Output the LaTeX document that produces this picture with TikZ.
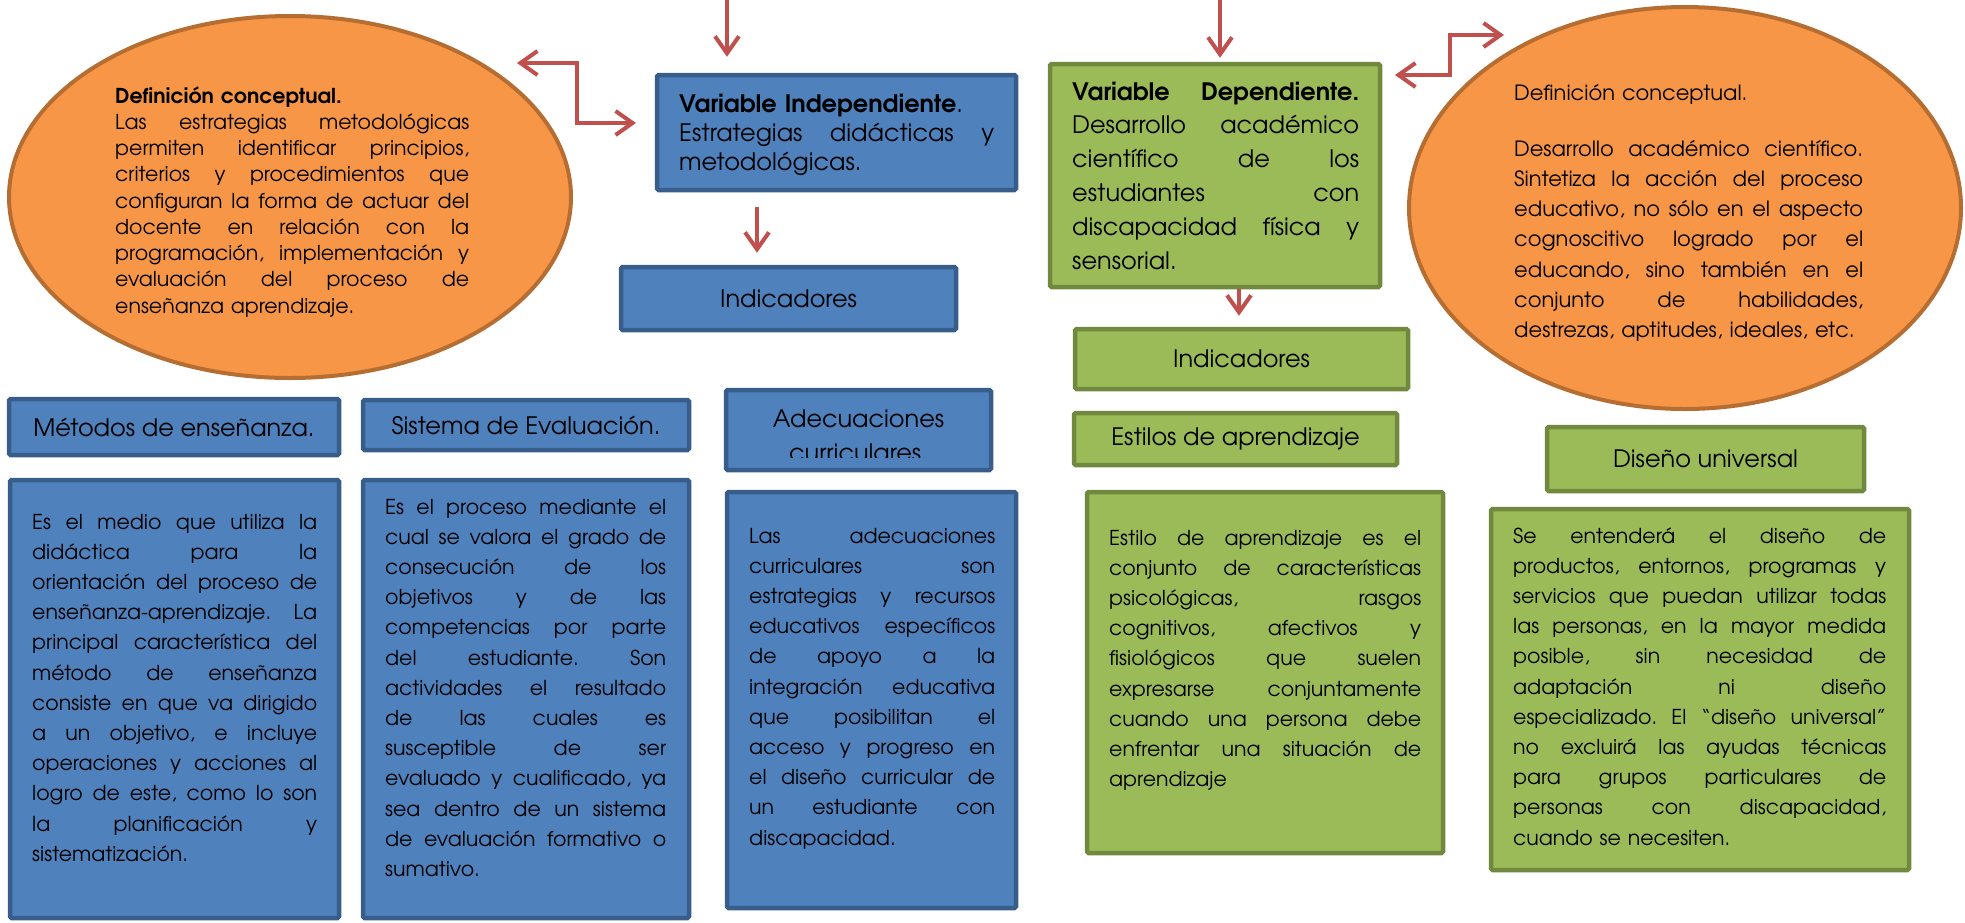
\documentclass[tikz,border=0pt]{standalone}
\usepackage{fontspec}
\setmainfont{texgyreadventor}[Extension=.otf, UprightFont=*-regular, BoldFont=*-bold, ItalicFont=*-italic, BoldItalicFont=*-bolditalic]
\usetikzlibrary{shapes.geometric,arrows.meta,calc}
\definecolor{bfill}{HTML}{4F81BD}
\definecolor{bdraw}{HTML}{385D8A}
\definecolor{gfill}{HTML}{9BBB59}
\definecolor{gdraw}{HTML}{71893F}
\definecolor{ofill}{HTML}{F79646}
\definecolor{odraw}{HTML}{B66D31}
\definecolor{arrc}{HTML}{C0504D}
\setlength{\parindent}{0pt}
\setlength{\parskip}{0pt}
\frenchspacing
\def\LW{100pt}
\newcommand\JL[1]{\hbox to\LW{\frenchspacing\spaceskip=\fontdimen2\font plus 1fil\relax #1}\par}
\begin{document}
\begin{tikzpicture}[x=1pt,y=-1pt,
  bbox/.style={draw=bdraw, fill=bfill, line width=4.5pt, rounded corners=1.5pt, inner sep=0pt, text=black},
  gbox/.style={draw=gdraw, fill=gfill, line width=4.5pt, rounded corners=1.5pt, inner sep=0pt, text=black},
  oell/.style={ellipse, draw=odraw, fill=ofill, line width=4pt, inner sep=0pt},
  txt/.style={anchor=base west, inner sep=0pt, align=left, text=black},
  lw/.style={text width=#1, execute at begin node={\def\LW{#1}}},
  hdr/.style={font=\fontsize{24}{28}\selectfont},
  body/.style={font=\fontsize{20.5}{30.2}\selectfont},
  arrow/.style={draw=arrc, line width=4pt, -{Straight Barb[length=17pt,width=24pt]}},
  darrow/.style={draw=arrc, line width=4pt, {Straight Barb[length=17pt,width=24pt]}-{Straight Barb[length=17pt,width=24pt]}},
]
\useasboundingbox (0,0) rectangle (1965,922);

% ellipses
\node[oell, minimum width=562pt, minimum height=362pt] (lell) at (290,197) {};
\node[oell, minimum width=552pt, minimum height=402pt] (rell) at (1685,208) {};

% top boxes
\node[bbox, minimum width=359pt, minimum height=115pt] (vi) at (836.5,132.5) {};
\node[bbox, hdr, minimum width=335pt, minimum height=63pt] (ind1) at (788.5,298.5) {Indicadores};
\node[gbox, minimum width=330pt, minimum height=223pt] (vd) at (1215,175.5) {};
\node[gbox, hdr, minimum width=333pt, minimum height=60pt] (ind2) at (1241.5,359) {Indicadores};

% header boxes
\node[bbox, hdr, minimum width=330pt, minimum height=56pt] (met) at (174,427) {Métodos de enseñanza.};
\node[bbox, hdr, minimum width=326pt, minimum height=50pt] (sis) at (526,425) {Sistema de Evaluación.};
\node[bbox, minimum width=265pt, minimum height=80pt] (ade) at (858.5,430) {};
\node[gbox, hdr, minimum width=323pt, minimum height=52pt] (est) at (1235.5,439) {Estilos de aprendizaje};
\node[gbox, hdr, minimum width=317pt, minimum height=64pt] (dis) at (1705.5,459) {Diseño universal};

% big boxes
\node[bbox, minimum width=329pt, minimum height=438pt] (b1) at (174.5,699) {};
\node[bbox, minimum width=326pt, minimum height=438pt] (b2) at (526,699) {};
\node[bbox, minimum width=289pt, minimum height=416pt] (b3) at (871.5,700) {};
\node[gbox, minimum width=356pt, minimum height=361pt] (g1) at (1265,672.5) {};
\node[gbox, minimum width=418pt, minimum height=361pt] (g2) at (1700,689.5) {};

% ellipse texts
\begin{scope}
\clip (100,0) rectangle (480,316);
\node[txt, lw=354pt, font=\fontsize{20.5}{26.25}\selectfont] (lt) at (115,103) {%
\textbf{Definición conceptual.}\par
\JL{Las estrategias metodológicas}
\JL{permiten identificar principios,}
\JL{criterios y procedimientos que}
\JL{configuran la forma de actuar del}
\JL{docente en relación con la}
\JL{programación, implementación y}
\JL{evaluación del proceso de}
enseñanza aprendizaje.};
\end{scope}
\begin{scope}
\clip (1500,0) rectangle (1900,341);
\node[txt, lw=349pt, font=\fontsize{21}{30.3}\selectfont] (rt) at (1514,100) {%
Definición conceptual.\par\vskip25.7pt
\JL{Desarrollo académico científico.}
\JL{Sintetiza la acción del proceso}
\JL{educativo, no sólo en el aspecto}
\JL{cognoscitivo logrado por el}
\JL{educando, sino también en el}
\JL{conjunto de habilidades,}
destrezas, aptitudes, ideales, etc.};
\end{scope}

% variable texts
\node[txt, lw=315pt, font=\fontsize{24}{29}\selectfont] (vit) at (679,112) {%
\textbf{Variable Independiente}.\par
\JL{Estrategias didácticas y}
metodológicas.};
\node[txt, lw=287pt, font=\fontsize{24}{33.8}\selectfont] (vdt) at (1072,100) {%
\JL{\textbf{Variable Dependiente.}}
\JL{Desarrollo académico}
\JL{científico de los}
\JL{estudiantes con}
\JL{discapacidad física y}
sensorial.};

% Adecuaciones header (clipped)
\begin{scope}
\clip (730,390) rectangle (990,457);
\node[anchor=base, inner sep=0pt, text width=260pt, align=center, font=\fontsize{24}{34}\selectfont] (adt) at (858.5,427) {Adecuaciones\par curriculares.};
\end{scope}

% body texts
\node[txt, body, lw=285pt] (b1t) at (32,529) {%
\JL{Es el medio que utiliza la}
\JL{didáctica para la}
\JL{orientación del proceso de}
\JL{enseñanza-aprendizaje. La}
\JL{principal característica del}
\JL{método de enseñanza}
\JL{consiste en que va dirigido}
\JL{a un objetivo, e incluye}
\JL{operaciones y acciones al}
\JL{logro de este, como lo son}
\JL{la planificación y}
sistematización.};
\node[txt, body, lw=281pt] (b2t) at (385,514) {%
\JL{Es el proceso mediante el}
\JL{cual se valora el grado de}
\JL{consecución de los}
\JL{objetivos y de las}
\JL{competencias por parte}
\JL{del estudiante. Son}
\JL{actividades el resultado}
\JL{de las cuales es}
\JL{susceptible de ser}
\JL{evaluado y cualificado, ya}
\JL{sea dentro de un sistema}
\JL{de evaluación formativo o}
sumativo.};
\node[txt, body, lw=246pt] (b3t) at (749,543) {%
\JL{Las adecuaciones}
\JL{curriculares son}
\JL{estrategias y recursos}
\JL{educativos específicos}
\JL{de apoyo a la}
\JL{integración educativa}
\JL{que posibilitan el}
\JL{acceso y progreso en}
\JL{el diseño curricular de}
\JL{un estudiante con}
discapacidad.};
\node[txt, body, lw=312pt] (g1t) at (1109,545) {%
\JL{Estilo de aprendizaje es el}
\JL{conjunto de características}
\JL{psicológicas, rasgos}
\JL{cognitivos, afectivos y}
\JL{fisiológicos que suelen}
\JL{expresarse conjuntamente}
\JL{cuando una persona debe}
\JL{enfrentar una situación de}
aprendizaje};
\node[txt, body, lw=373pt] (g2t) at (1513,543) {%
\JL{Se entenderá el diseño de}
\JL{productos, entornos, programas y}
\JL{servicios que puedan utilizar todas}
\JL{las personas, en la mayor medida}
\JL{posible, sin necesidad de}
\JL{adaptación ni diseño}
\JL{especializado. El “diseño universal”}
\JL{no excluirá las ayudas técnicas}
\JL{para grupos particulares de}
\JL{personas con discapacidad,}
cuando se necesiten.};

% arrows
\coordinate (t1) at (727,0);
\coordinate (t2) at (1220,0);
\draw[arrow] (t1) -- ([xshift=-109.5pt,yshift=16pt]vi.north);
\draw[arrow] (t2) -- ([xshift=5pt,yshift=4pt]vd.north);
\draw[arrow] ([xshift=-79.5pt,yshift=-15pt]vi.south) -- ([xshift=-31.5pt,yshift=12pt]ind1.north);
\draw[arrow] ([xshift=24pt]vd.south) -- ([xshift=-2.5pt,yshift=11pt]ind2.north);
\coordinate (la) at (517,63);
\coordinate (lb) at (636,123);
\draw[darrow] (la) -| ($(la)!.5!(lb)$) |- (lb);
\coordinate (ra) at (1395,75);
\coordinate (rb) at (1504,35);
\draw[darrow] (ra) -| ($(ra)!.5!(rb)$) |- (rb);
\end{tikzpicture}
\end{document}
